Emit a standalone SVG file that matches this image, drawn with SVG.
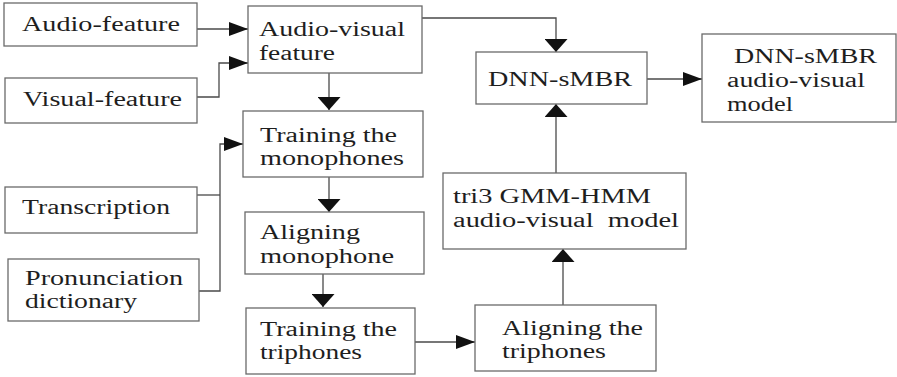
<svg xmlns="http://www.w3.org/2000/svg" width="897" height="377" viewBox="0 0 897 377">
<style>
  .box { fill: #fff; stroke: #6a6a6a; stroke-width: 1.3; }
  .t { font-family: "Liberation Serif", "Times New Roman", serif; font-size: 20.5px; fill: #1e1e1e; }
  .c { fill: none; stroke: #4a4a4a; stroke-width: 1.3; }
</style>
<defs>
  <marker id="ah" markerUnits="userSpaceOnUse" viewBox="0 0 19 14" markerWidth="19" markerHeight="14" refX="19" refY="7" orient="auto">
    <path d="M0,0 L19,7 L0,14 z" fill="#111"/>
  </marker>
  <marker id="av" markerUnits="userSpaceOnUse" viewBox="0 0 13 23" markerWidth="13" markerHeight="23" refX="13" refY="11.5" orient="auto">
    <path d="M0,0 L13,11.5 L0,23 z" fill="#111"/>
  </marker>
</defs>
<rect width="897" height="377" fill="#fff"/>

<g id="connectors">
  <path class="c" d="M197,29 H248" marker-end="url(#ah)"/>
  <path class="c" d="M197,97 H219 V63 H248" marker-end="url(#ah)"/>
  <path class="c" d="M329,73 V110" marker-end="url(#av)"/>
  <path class="c" d="M422,18 H556 V52" marker-end="url(#av)"/>
  <path class="c" d="M197,195 H220"/>
  <path class="c" d="M199,291 H220 V144 H243" marker-end="url(#ah)"/>
  <path class="c" d="M329,177 V212" marker-end="url(#av)"/>
  <path class="c" d="M323,274 V307" marker-end="url(#av)"/>
  <path class="c" d="M415,342 H475" marker-end="url(#ah)"/>
  <path class="c" d="M563,305 V249" marker-end="url(#av)"/>
  <path class="c" d="M556,173 V104" marker-end="url(#av)"/>
  <path class="c" d="M647,79 H702" marker-end="url(#ah)"/>
</g>

<g id="audio-feature">
  <rect class="box" x="4" y="3" width="193" height="43"/>
  <text class="t" x="22" y="31" textLength="158" lengthAdjust="spacingAndGlyphs">Audio-feature</text>
</g>
<g id="visual-feature">
  <rect class="box" x="5" y="78" width="192" height="45"/>
  <text class="t" x="23" y="106" textLength="159" lengthAdjust="spacingAndGlyphs">Visual-feature</text>
</g>
<g id="audio-visual-feature">
  <rect class="box" x="248" y="6" width="174" height="67"/>
  <text class="t" x="259" y="36" textLength="146" lengthAdjust="spacingAndGlyphs">Audio-visual</text>
  <text class="t" x="259" y="60" textLength="76" lengthAdjust="spacingAndGlyphs">feature</text>
</g>
<g id="training-monophones">
  <rect class="box" x="243" y="111" width="180" height="66"/>
  <text class="t" x="260" y="142" textLength="137" lengthAdjust="spacingAndGlyphs">Training the</text>
  <text class="t" x="260" y="165" textLength="144" lengthAdjust="spacingAndGlyphs">monophones</text>
</g>
<g id="transcription">
  <rect class="box" x="5" y="187" width="192" height="46"/>
  <text class="t" x="22" y="214" textLength="148" lengthAdjust="spacingAndGlyphs">Transcription</text>
</g>
<g id="pronunciation-dictionary">
  <rect class="box" x="8" y="259" width="191" height="62"/>
  <text class="t" x="25" y="285" textLength="158" lengthAdjust="spacingAndGlyphs">Pronunciation</text>
  <text class="t" x="25" y="308" textLength="112" lengthAdjust="spacingAndGlyphs">dictionary</text>
</g>
<g id="aligning-monophone">
  <rect class="box" x="245" y="212" width="179" height="62"/>
  <text class="t" x="260" y="239" textLength="100" lengthAdjust="spacingAndGlyphs">Aligning</text>
  <text class="t" x="260" y="263" textLength="134" lengthAdjust="spacingAndGlyphs">monophone</text>
</g>
<g id="training-triphones">
  <rect class="box" x="246" y="308" width="169" height="66"/>
  <text class="t" x="260" y="336" textLength="137" lengthAdjust="spacingAndGlyphs">Training the</text>
  <text class="t" x="260" y="359" textLength="102" lengthAdjust="spacingAndGlyphs">triphones</text>
</g>
<g id="aligning-triphones">
  <rect class="box" x="475" y="305" width="181" height="66"/>
  <text class="t" x="502" y="335" textLength="141" lengthAdjust="spacingAndGlyphs">Aligning the</text>
  <text class="t" x="502" y="358" textLength="104" lengthAdjust="spacingAndGlyphs">triphones</text>
</g>
<g id="tri3-model">
  <rect class="box" x="443" y="173" width="243" height="76"/>
  <text class="t" x="453" y="203" textLength="198" lengthAdjust="spacingAndGlyphs">tri3 GMM-HMM</text>
  <text class="t" x="453" y="227" textLength="226" lengthAdjust="spacingAndGlyphs" xml:space="preserve">audio-visual  model</text>
</g>
<g id="dnn-smbr">
  <rect class="box" x="476" y="52" width="171" height="52"/>
  <text class="t" x="488" y="86" textLength="144" lengthAdjust="spacingAndGlyphs">DNN-sMBR</text>
</g>
<g id="dnn-smbr-model">
  <rect class="box" x="702" y="34" width="194" height="88"/>
  <text class="t" x="734" y="63" textLength="143" lengthAdjust="spacingAndGlyphs">DNN-sMBR</text>
  <text class="t" x="727" y="87" textLength="138" lengthAdjust="spacingAndGlyphs">audio-visual</text>
  <text class="t" x="727" y="111" textLength="66" lengthAdjust="spacingAndGlyphs">model</text>
</g>
</svg>
